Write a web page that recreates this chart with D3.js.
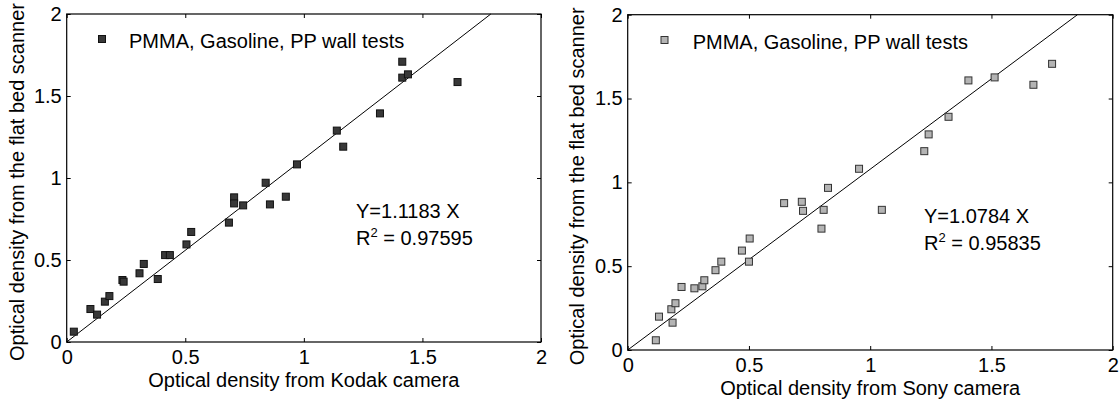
<!DOCTYPE html>
<html lang="en">
<head>
  <meta charset="UTF-8">
  <title>Optical density comparison</title>
  <script src="https://d3js.org/d3.v7.min.js"></script>
  <style>
    body {
      margin: 0;
      background: #fff;
    }
    text {
      font-family: "Liberation Sans", Arial, sans-serif;
      font-size: 20px;
      fill: #000;
    }
  </style>
</head>
<body>
<svg width="1120" height="402"></svg>

<script>
  // values
  const kodakX = [0.03, 0.10, 0.128, 0.161, 0.18, 0.235, 0.24, 0.307, 0.325, 0.384, 0.415, 0.435,
    0.505, 0.525, 0.684, 0.706, 0.706, 0.744, 0.839, 0.857, 0.924, 0.971, 1.139, 1.166,
    1.321, 1.415, 1.415, 1.439, 1.648];
  const kodakY = [0.063, 0.201, 0.167, 0.246, 0.28, 0.378, 0.368, 0.419, 0.476, 0.384, 0.53, 0.53,
    0.595, 0.671, 0.728, 0.882, 0.845, 0.833, 0.971, 0.839, 0.886, 1.083, 1.289, 1.191,
    1.394, 1.709, 1.612, 1.632, 1.585];

  const sonyX = [0.116, 0.129, 0.18, 0.185, 0.197, 0.222, 0.275, 0.308, 0.316, 0.362, 0.386, 0.471,
    0.50, 0.503, 0.645, 0.718, 0.723, 0.799, 0.808, 0.826, 0.954, 1.048, 1.223, 1.241,
    1.323, 1.405, 1.513, 1.673, 1.75];
  const sonyY = [0.058, 0.199, 0.243, 0.163, 0.279, 0.376, 0.368, 0.38, 0.416, 0.476, 0.527, 0.593,
    0.527, 0.665, 0.876, 0.884, 0.83, 0.724, 0.836, 0.967, 1.081, 0.836, 1.186, 1.286,
    1.391, 1.608, 1.626, 1.582, 1.707];

  const tickValues = [0, 0.5, 1, 1.5, 2];
  const tickLabels = ["0", "0.5", "1", "1.5", "2"];

  const panels = [
    {
      xs: kodakX, ys: kodakY, slope: 1.1183, r2: "0.97595",
      xlabel: "Optical density from Kodak camera",
      left: 66.7, right: 541, top: 14, bottom: 342,
      fill: "#383838", stroke: "#111",
      ox: 0, legX: 102, legTextX: 129, legY: 39, annX: 356, annY: 218
    },
    {
      xs: sonyX, ys: sonyY, slope: 1.0784, r2: "0.95835",
      xlabel: "Optical density from Sony camera",
      left: 627.7, right: 1112.7, top: 14.7, bottom: 350,
      fill: "#b4b4b4", stroke: "#333",
      ox: 560, legX: 664.5, legTextX: 692.7, legY: 40, annX: 924, annY: 223
    }
  ];

  const svg = d3.select("svg");
  const tickLen = 4;
  const s = 7; // marker size

  panels.forEach(p => {
    const x = d3.scaleLinear().domain([0, 2]).range([p.left, p.right]);
    const y = d3.scaleLinear().domain([0, 2]).range([p.bottom, p.top]);
    const g = svg.append("g");

    // frame
    g.append("rect")
      .attr("x", p.left).attr("y", p.top)
      .attr("width", p.right - p.left).attr("height", p.bottom - p.top)
      .attr("fill", "none").attr("stroke", "#000").attr("stroke-width", 1.2);

    // ticks, inward on all four sides
    const fmt = (d, i) => tickLabels[i];
    g.append("g").attr("transform", `translate(0,${p.bottom})`)
      .call(d3.axisBottom(x).tickValues(tickValues).tickSize(-tickLen).tickFormat(fmt).tickPadding(8))
      .call(a => a.select(".domain").remove());
    g.append("g").attr("transform", `translate(0,${p.top})`)
      .call(d3.axisTop(x).tickValues(tickValues).tickSize(-tickLen).tickFormat(""))
      .call(a => a.select(".domain").remove());
    g.append("g").attr("transform", `translate(${p.left},0)`)
      .call(d3.axisLeft(y).tickValues(tickValues).tickSize(-tickLen).tickFormat(fmt).tickPadding(5))
      .call(a => a.select(".domain").remove());
    g.append("g").attr("transform", `translate(${p.right},0)`)
      .call(d3.axisRight(y).tickValues(tickValues).tickSize(-tickLen).tickFormat(""))
      .call(a => a.select(".domain").remove());

    g.selectAll(".tick text").attr("font-size", 20).attr("font-family", "Liberation Sans, Arial, sans-serif");
    g.selectAll(".tick line").attr("stroke", "#000");

    // fit line through origin, stops at y = 2
    const xEnd = 2 / p.slope;
    g.append("line")
      .attr("x1", x(0)).attr("y1", y(0))
      .attr("x2", x(xEnd)).attr("y2", y(2))
      .attr("stroke", "#000").attr("stroke-width", 1);

    // data squares
    const pts = p.xs.map((v, i) => [v, p.ys[i]]);
    g.selectAll(".pt")
      .data(pts)
      .enter()
      .append("rect")
      .attr("class", "pt")
      .attr("x", d => x(d[0]) - s / 2)
      .attr("y", d => y(d[1]) - s / 2)
      .attr("width", s).attr("height", s)
      .attr("fill", p.fill).attr("stroke", p.stroke).attr("stroke-width", 1);

    // legend
    g.append("rect")
      .attr("x", p.legX - s / 2).attr("y", p.legY - s / 2)
      .attr("width", s).attr("height", s)
      .attr("fill", p.fill).attr("stroke", p.stroke).attr("stroke-width", 1);
    g.append("text")
      .attr("x", p.legTextX).attr("y", p.legY + 9)
      .text("PMMA, Gasoline, PP wall tests");

    // regression annotation
    g.append("text").attr("x", p.annX).attr("y", p.annY).text(`Y=${p.slope} X`);
    const r = g.append("text").attr("x", p.annX).attr("y", p.annY + 27);
    r.append("tspan").text("R");
    r.append("tspan").attr("dy", -8).attr("font-size", 13).text("2");
    r.append("tspan").attr("dy", 8).text(` = ${p.r2}`);

    // axis labels
    g.append("text")
      .attr("x", (p.left + p.right) / 2).attr("y", p.bottom + 45)
      .attr("text-anchor", "middle")
      .text(p.xlabel);
    g.append("text")
      .attr("transform", `translate(${p.ox + 24},${(p.top + p.bottom) / 2 + 4}) rotate(-90)`)
      .attr("text-anchor", "middle")
      .text("Optical density from the flat bed scanner");
  });
</script>
</body>
</html>
